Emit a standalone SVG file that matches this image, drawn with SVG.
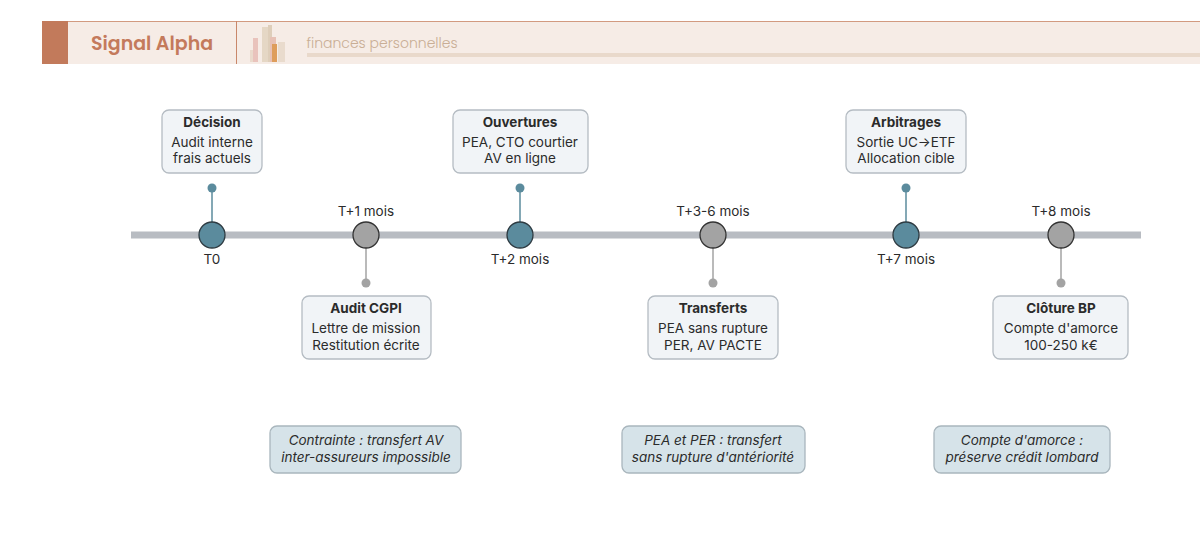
<svg xmlns="http://www.w3.org/2000/svg" width="1200" height="541" viewBox="0 0 1200 541">
<style>
text{font-family:Inter,"Noto Sans",sans-serif;fill:#2b2b2b;text-anchor:middle}
.t{font-size:13.5px;font-weight:700}
.b{font-size:13.5px}
.lbl{font-size:13.5px}
.box{fill:#f1f4f7;stroke:#b5bcc3;stroke-width:1.3}
.note{fill:#d6e3e9;stroke:#a9b6bd;stroke-width:1.3}
.n{font-size:13.5px;font-style:italic}
.tl{fill:#5b8b9d;stroke:#2e3b42;stroke-width:1.3}
.gr{fill:#a3a3a3;stroke:#333;stroke-width:1.3}
</style>
<rect width="1200" height="541" fill="#fff"/>
<g id="header">
<rect x="42" y="21" width="1158" height="43" fill="#f6ece6"/>
<line x1="42" y1="21.5" x2="1200" y2="21.5" stroke="#d29a80" stroke-width="1"/>
<rect x="42" y="21" width="26" height="43" fill="#c27a5b"/>
<line x1="236.5" y1="21" x2="236.5" y2="64" stroke="#c9876a" stroke-width="1"/>
<text x="152" y="50" style="font-family:Poppins,'Noto Sans',sans-serif;font-size:19px;font-weight:600;fill:#c47a5c">Signal Alpha</text>
<g opacity="0.8">
<rect x="250" y="50" width="8" height="12" fill="#e8d6c6"/>
<rect x="253" y="38" width="5" height="24" fill="#e6b9b2"/>
<rect x="262" y="27" width="8" height="35" fill="#e2d2bd"/>
<rect x="268" y="25" width="4" height="37" fill="#d9c7b0"/>
<rect x="270" y="37" width="6" height="25" fill="#e4b7a9"/>
<rect x="272" y="44" width="5" height="18" fill="#d98a3a"/>
<rect x="278" y="42" width="7" height="20" fill="#e6d8c8"/>
</g>
<text x="382" y="48" style="font-family:Poppins,'Noto Sans',sans-serif;font-size:14px;font-weight:300;fill:#c9ae95">finances personnelles</text>
<rect x="307" y="53" width="893" height="4" fill="#e9d9cb"/>
</g>
<g id="connectors">
<line x1="131" y1="235" x2="1141" y2="235" stroke="#b8bcc2" stroke-width="7"/>
<g stroke="#5b8b9d" stroke-width="1.5">
<line x1="212" y1="188" x2="212" y2="235"/><line x1="520" y1="188" x2="520" y2="235"/><line x1="906" y1="188" x2="906" y2="235"/>
</g>
<g stroke="#a3a3a3" stroke-width="1.5">
<line x1="366" y1="235" x2="366" y2="283"/><line x1="713" y1="235" x2="713" y2="283"/><line x1="1061" y1="235" x2="1061" y2="283"/>
</g>
<g fill="#5b8b9d"><circle cx="212" cy="188" r="4.5"/><circle cx="520" cy="188" r="4.5"/><circle cx="906" cy="188" r="4.5"/></g>
<g fill="#a3a3a3"><circle cx="366" cy="283" r="4.5"/><circle cx="713" cy="283" r="4.5"/><circle cx="1061" cy="283" r="4.5"/></g>
</g>
<g id="m0"><circle class="tl" cx="212" cy="235" r="13"/><text class="lbl" x="212" y="264">T0</text></g>
<g id="m1"><circle class="gr" cx="366" cy="235" r="13"/><text class="lbl" x="366" y="216">T+1 mois</text></g>
<g id="m2"><circle class="tl" cx="520" cy="235" r="13"/><text class="lbl" x="520" y="264">T+2 mois</text></g>
<g id="m3"><circle class="gr" cx="713" cy="235" r="13"/><text class="lbl" x="713" y="216">T+3-6 mois</text></g>
<g id="m4"><circle class="tl" cx="906" cy="235" r="13"/><text class="lbl" x="906" y="264">T+7 mois</text></g>
<g id="m5"><circle class="gr" cx="1061" cy="235" r="13"/><text class="lbl" x="1061" y="216">T+8 mois</text></g>
<g id="decision"><rect class="box" x="162" y="110" width="100" height="63" rx="7"/>
<text class="t" x="212" y="127">Décision</text><text class="b" x="212" y="147">Audit interne</text><text class="b" x="212" y="163">frais actuels</text></g>
<g id="audit"><rect class="box" x="302" y="296" width="129" height="63" rx="7"/>
<text class="t" x="366" y="313">Audit CGPI</text><text class="b" x="366" y="333">Lettre de mission</text><text class="b" x="366" y="350">Restitution écrite</text></g>
<g id="ouvertures"><rect class="box" x="453" y="110" width="135" height="63" rx="7"/>
<text class="t" x="520" y="127">Ouvertures</text><text class="b" x="520" y="147">PEA, CTO courtier</text><text class="b" x="520" y="163">AV en ligne</text></g>
<g id="transferts"><rect class="box" x="648" y="296" width="130" height="63" rx="7"/>
<text class="t" x="713" y="313">Transferts</text><text class="b" x="713" y="333">PEA sans rupture</text><text class="b" x="713" y="350">PER, AV PACTE</text></g>
<g id="arbitrages"><rect class="box" x="846" y="110" width="120" height="63" rx="7"/>
<text class="t" x="906" y="127">Arbitrages</text><text class="b" x="906" y="147">Sortie UC→ETF</text><text class="b" x="906" y="163">Allocation cible</text></g>
<g id="cloture"><rect class="box" x="993" y="296" width="135" height="63" rx="7"/>
<text class="t" x="1061" y="313">Clôture BP</text><text class="b" x="1061" y="333">Compte d'amorce</text><text class="b" x="1061" y="350">100-250 k€</text></g>
<g id="note1"><rect class="note" x="270" y="426" width="191" height="47" rx="7"/>
<text class="n" x="366" y="445">Contrainte : transfert AV</text><text class="n" x="366" y="462">inter-assureurs impossible</text></g>
<g id="note2"><rect class="note" x="622" y="426" width="183" height="47" rx="7"/>
<text class="n" x="713" y="445">PEA et PER : transfert</text><text class="n" x="713" y="462">sans rupture d'antériorité</text></g>
<g id="note3"><rect class="note" x="934" y="426" width="176" height="47" rx="7"/>
<text class="n" x="1022" y="445">Compte d'amorce :</text><text class="n" x="1022" y="462">préserve crédit lombard</text></g>
</svg>
